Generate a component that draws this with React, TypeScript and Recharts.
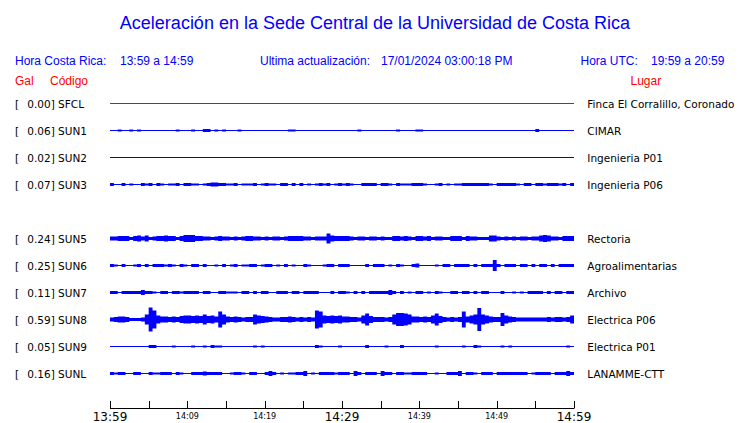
import React from 'react';
import { ComposedChart, Area, XAxis, YAxis } from 'recharts';

// ---------- data ----------
const stationCodes = ['SFCL', 'SUN1', 'SUN2', 'SUN3', 'SUN5', 'SUN6', 'SUN7', 'SUN8', 'SUN9', 'SUNL'];
const stationPlaces = [
  'Finca El Corralillo, Coronado',
  'CIMAR',
  'Ingenieria P01',
  'Ingenieria P06',
  'Rectoria',
  'Agroalimentarias',
  'Archivo',
  'Electrica P06',
  'Electrica P01',
  'LANAMME-CTT',
];
const stationGal = [0.0, 0.06, 0.02, 0.07, 0.24, 0.25, 0.11, 0.59, 0.05, 0.16];
const stationRows = [0, 1, 2, 3, 5, 6, 7, 8, 9, 10];
const stationColors = ['#ff0000', '#0000ff', '#0000ff', '#0000ff', '#0000ff', '#0000ff', '#0000ff', '#0000ff', '#0000ff', '#0000ff'];

// amplitude envelopes: one char per 30 s (120 samples), base-36 digit = half-amplitude in half-pixel units
const envSFCL = '0000000000 0000000000 0000000000 0000000000 0000000000 0000000000 0000000000 0000000000 0000000000 0000000000 0000000000 0000000000';
const envSUN1 = '0020020200 0000000200 0200330202 0002000000 0000002200 0000000000 0000200000 1000200002 2000000000 0000000000 0000000000 3000000000';
const envSUN2 = '0000000000 0000000000 0000000000 0000000000 0000000000 0000000000 0000000000 0000000000 0000000100 0000000000 0000000000 0000000000';
const envSUN3 = '3003020032 3032022303 3220234433 2230222302 3220330303 0202323023 2320033330 3320322233 3200230202 2333333320 3333320330 3323332303';
const envSUN5 = '4455535646 3455655357 7755443454 4343455443 4344345555 443444a655 5543443443 4335545435 5453443355 5354433366 4343434434 4676443555';
const envSUN6 = '3203002303 0333232032 0330300203 0230223302 3302030200 3200023303 3300003033 3020320034 0000203303 333030333b 3033303303 0330303333';
const envSUN7 = '3303333353 3203303323 3330330033 2220330303 3003330330 3333000303 3203030333 3353030203 3020320033 0330303300 0300202033 3303033033';
const envSUN8 = '456653334a oi86656578 8787a786ga 6565455a87 6544556545 454ig87878 665548c755 545addca66 5658c75454 5g68ana865 5d86544444 4445455458';
const envSUN9 = '0000000000 3300002000 0200203220 0000000202 0000000000 0003200002 0000003000 0200030000 0000200000 0200320000 0202000000 0000000020';
const envSUNL = '3233003300 3223330320 0333433330 0233203300 3530202233 5020333323 3305303330 5330332233 3300200333 5033203330 3333333302 3333033353';
const stationEnvelopes = [envSFCL, envSUN1, envSUN2, envSUN3, envSUN5, envSUN6, envSUN7, envSUN8, envSUN9, envSUNL];

const tickMinutes = [0, 5, 10, 15, 20, 25, 30, 35, 40, 45, 50, 55, 60];
const tickLabels = ['13:59', '', '14:09', '', '14:19', '', '14:29', '', '14:39', '', '14:49', '', '14:59'];
const majorLabels = ['13:59', '14:29', '14:59'];

// ---------- layout ----------
const W = 740;
const H = 423;
const PLOT_LEFT = 110;
const PLOT_RIGHT = 574;
const PLOT_TOP = 90;
const AXIS_Y = 408.5;
const ROW0_Y = 103.5;
const ROW_PX = 27;
const SAMPLE_MIN = 0.5;
const LINE_HALF_PX = 0.5;

const parseEnv = (s: string) => s.replace(/\s/g, '').split('').map((c) => parseInt(c, 36));
const envs = stationEnvelopes.map(parseEnv);
const nSamples = envs[0].length;

const data: any[] = [];
for (let i = 0; i <= nSamples; i++) {
  const row: any = { t: i * SAMPLE_MIN };
  envs.forEach((env, k) => {
    const v = env[Math.min(i, nSamples - 1)];
    const a = Math.max(v * 0.5, LINE_HALF_PX) / ROW_PX;
    const r = stationRows[k];
    row['s' + k] = [r - a, r + a];
  });
  data.push(row);
}

const yMin = (PLOT_TOP - ROW0_Y) / ROW_PX;
const yMax = (AXIS_Y - ROW0_Y) / ROW_PX;
const rowY = (r: number) => ROW0_Y + r * ROW_PX;

const TimeTick = (props: any) => {
  const { x, y, payload } = props;
  const idx = tickMinutes.indexOf(payload.value);
  const label = idx >= 0 ? tickLabels[idx] : '';
  const major = majorLabels.includes(label);
  const xx = Math.round(x) + 0.5;
  return (
    <g>
      <line x1={xx} x2={xx} y1={y} y2={y - 7.5} stroke="#000" strokeWidth={1} />
      {label ? (
        <text
          x={x}
          y={major ? y + 12 : y + 10}
          textAnchor="middle"
          fontSize={major ? 12 : 8}
          fontFamily="DejaVu Sans"
          fill="#000"
        >
          {label}
        </text>
      ) : null}
    </g>
  );
};

const headFont = 'Liberation Sans, Arial, sans-serif';
const labelFont = 'DejaVu Sans, sans-serif';

export default function App() {
  return (
    <div style={{ position: 'absolute', left: 0, top: 0, width: W, height: H, background: '#fff' }}>
      <ComposedChart
        width={W}
        height={H}
        data={data}
        margin={{ top: PLOT_TOP, right: W - PLOT_RIGHT, bottom: 0, left: PLOT_LEFT }}
      >
        <XAxis
          dataKey="t"
          type="number"
          domain={[0, 60]}
          ticks={tickMinutes}
          interval={0}
          height={H - AXIS_Y}
          tickSize={0}
          tickMargin={0}
          tickLine={false}
          axisLine={{ stroke: '#000', strokeWidth: 1 }}
          tick={<TimeTick />}
          allowDataOverflow
        />
        <YAxis type="number" hide reversed domain={[yMin, yMax]} allowDataOverflow />
        {stationCodes.map((c, k) => (
          <Area
            key={c}
            dataKey={'s' + k}
            type="stepAfter"
            stroke="none"
            strokeWidth={0}
            fill={stationColors[k]}
            fillOpacity={1}
            isAnimationActive={false}
            dot={false}
            activeDot={false}
          />
        ))}
      </ComposedChart>
      <svg width={W} height={H} style={{ position: 'absolute', left: 0, top: 0, pointerEvents: 'none' }}>
        <text x={375} y={29} textAnchor="middle" fontSize={18} fontFamily={headFont} fill="#0000ff">
          Aceleración en la Sede Central de la Universidad de Costa Rica
        </text>
        <g fontSize={12} fontFamily={headFont} fill="#0000ff">
          <text x={15} y={65}>Hora Costa Rica:</text>
          <text x={120} y={65}>13:59 a 14:59</text>
          <text x={260} y={65}>Ultima actualización:</text>
          <text x={381} y={65}>17/01/2024 03:00:18 PM</text>
          <text x={580.5} y={65}>Hora UTC:</text>
          <text x={651} y={65}>19:59 a 20:59</text>
        </g>
        <g fontSize={12} fontFamily={headFont} fill="#ff0000">
          <text x={15} y={84.5}>Gal</text>
          <text x={50} y={84.5}>Código</text>
          <text x={630.5} y={84.5}>Lugar</text>
        </g>
        <g fontSize={10.5} fontFamily={labelFont} fill="#000">
          {stationCodes.map((c, k) => (
            <g key={c}>
              <text x={15} y={rowY(stationRows[k]) + 4}>[</text>
              <text x={27.3} y={rowY(stationRows[k]) + 4}>{stationGal[k].toFixed(2) + '] ' + c}</text>
              <text x={587.3} y={rowY(stationRows[k]) + 4}>{stationPlaces[k]}</text>
            </g>
          ))}
        </g>
      </svg>
    </div>
  );
}
